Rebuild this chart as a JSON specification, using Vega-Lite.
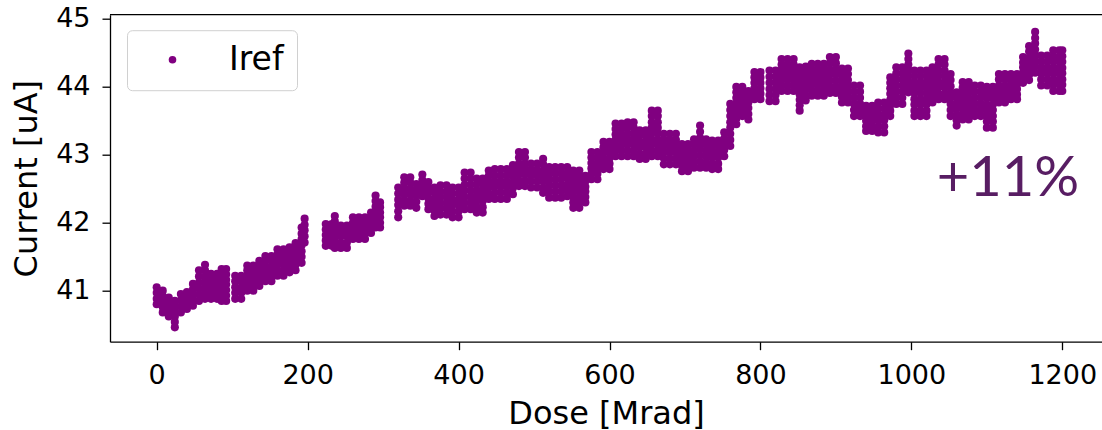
{
"$schema": "https://vega.github.io/schema/vega-lite/v6.json",
"width": 992,
"height": 327,
"autosize": "none",
"padding": {"left": 110, "top": 14.7, "right": 0, "bottom": 88.3},
"config": {
  "view": {"stroke": null},
  "axis": {"grid": false, "domainColor": "black", "domainWidth": 1.3, "tickColor": "black", "tickWidth": 1.3, "tickSize": 8, "labelFont": "DejaVu Sans", "labelFontSize": 27, "labelColor": "black", "titleFont": "DejaVu Sans", "titleFontSize": 32, "titleFontWeight": "normal", "titleColor": "black", "labelFlush": false, "labelOverlap": false}
},
"layer": [
{
"data": {"values": [
{"dose":0,"current":40.80},{"dose":0,"current":40.88},{"dose":0,"current":40.97},{"dose":0,"current":41.05},
{"dose":8,"current":40.68},{"dose":8,"current":40.76},{"dose":8,"current":40.84},{"dose":8,"current":40.92},{"dose":8,"current":41.00},
{"dose":16,"current":40.62},{"dose":16,"current":40.69},{"dose":16,"current":40.76},{"dose":16,"current":40.83},{"dose":16,"current":40.90},
{"dose":24,"current":40.46},{"dose":24,"current":40.54},{"dose":24,"current":40.62},{"dose":24,"current":40.69},{"dose":24,"current":40.77},{"dose":24,"current":40.85},
{"dose":32,"current":40.68},{"dose":32,"current":40.77},{"dose":32,"current":40.86},{"dose":32,"current":40.95},
{"dose":40,"current":40.73},{"dose":40,"current":40.81},{"dose":40,"current":40.90},{"dose":40,"current":40.98},
{"dose":48,"current":40.78},{"dose":48,"current":40.86},{"dose":48,"current":40.94},{"dose":48,"current":41.02},{"dose":48,"current":41.10},
{"dose":56,"current":40.85},{"dose":56,"current":40.94},{"dose":56,"current":41.03},{"dose":56,"current":41.12},{"dose":56,"current":41.21},{"dose":56,"current":41.30},
{"dose":64,"current":40.88},{"dose":64,"current":40.96},{"dose":64,"current":41.05},{"dose":64,"current":41.13},{"dose":64,"current":41.21},{"dose":64,"current":41.30},{"dose":64,"current":41.38},
{"dose":72,"current":40.88},{"dose":72,"current":40.95},{"dose":72,"current":41.03},{"dose":72,"current":41.10},{"dose":72,"current":41.18},{"dose":72,"current":41.25},
{"dose":80,"current":40.88},{"dose":80,"current":40.95},{"dose":80,"current":41.03},{"dose":80,"current":41.10},{"dose":80,"current":41.18},{"dose":80,"current":41.25},
{"dose":86,"current":40.85},{"dose":86,"current":40.93},{"dose":86,"current":41.01},{"dose":86,"current":41.09},{"dose":86,"current":41.16},{"dose":86,"current":41.24},{"dose":86,"current":41.32},
{"dose":92,"current":40.85},{"dose":92,"current":40.93},{"dose":92,"current":41.01},{"dose":92,"current":41.09},{"dose":92,"current":41.16},{"dose":92,"current":41.24},{"dose":92,"current":41.32},
{"dose":104,"current":40.88},{"dose":104,"current":40.97},{"dose":104,"current":41.05},{"dose":104,"current":41.14},{"dose":104,"current":41.22},
{"dose":112,"current":40.88},{"dose":112,"current":40.97},{"dose":112,"current":41.05},{"dose":112,"current":41.14},{"dose":112,"current":41.22},
{"dose":120,"current":41.00},{"dose":120,"current":41.07},{"dose":120,"current":41.15},{"dose":120,"current":41.22},{"dose":120,"current":41.30},{"dose":120,"current":41.37},
{"dose":128,"current":41.00},{"dose":128,"current":41.07},{"dose":128,"current":41.15},{"dose":128,"current":41.22},{"dose":128,"current":41.30},{"dose":128,"current":41.37},
{"dose":136,"current":41.07},{"dose":136,"current":41.14},{"dose":136,"current":41.22},{"dose":136,"current":41.29},{"dose":136,"current":41.37},{"dose":136,"current":41.44},
{"dose":144,"current":41.14},{"dose":144,"current":41.21},{"dose":144,"current":41.29},{"dose":144,"current":41.36},{"dose":144,"current":41.44},{"dose":144,"current":41.51},
{"dose":152,"current":41.14},{"dose":152,"current":41.21},{"dose":152,"current":41.29},{"dose":152,"current":41.36},{"dose":152,"current":41.44},{"dose":152,"current":41.51},
{"dose":160,"current":41.22},{"dose":160,"current":41.30},{"dose":160,"current":41.38},{"dose":160,"current":41.45},{"dose":160,"current":41.53},{"dose":160,"current":41.61},
{"dose":168,"current":41.22},{"dose":168,"current":41.30},{"dose":168,"current":41.38},{"dose":168,"current":41.45},{"dose":168,"current":41.53},{"dose":168,"current":41.61},
{"dose":176,"current":41.27},{"dose":176,"current":41.34},{"dose":176,"current":41.42},{"dose":176,"current":41.49},{"dose":176,"current":41.57},{"dose":176,"current":41.64},
{"dose":184,"current":41.30},{"dose":184,"current":41.38},{"dose":184,"current":41.46},{"dose":184,"current":41.54},{"dose":184,"current":41.62},{"dose":184,"current":41.70},
{"dose":192,"current":41.41},{"dose":192,"current":41.50},{"dose":192,"current":41.58},{"dose":192,"current":41.67},{"dose":192,"current":41.76},{"dose":192,"current":41.84},{"dose":192,"current":41.93},
{"dose":196,"current":41.71},{"dose":196,"current":41.80},{"dose":196,"current":41.89},{"dose":196,"current":41.97},{"dose":196,"current":42.06},
{"dose":224,"current":41.66},{"dose":224,"current":41.74},{"dose":224,"current":41.82},{"dose":224,"current":41.90},{"dose":224,"current":41.98},
{"dose":232,"current":41.66},{"dose":232,"current":41.74},{"dose":232,"current":41.82},{"dose":232,"current":41.90},{"dose":232,"current":41.98},
{"dose":236,"current":41.63},{"dose":236,"current":41.71},{"dose":236,"current":41.79},{"dose":236,"current":41.87},{"dose":236,"current":41.94},{"dose":236,"current":42.02},{"dose":236,"current":42.10},
{"dose":244,"current":41.63},{"dose":244,"current":41.71},{"dose":244,"current":41.80},{"dose":244,"current":41.88},{"dose":244,"current":41.96},
{"dose":252,"current":41.63},{"dose":252,"current":41.71},{"dose":252,"current":41.80},{"dose":252,"current":41.88},{"dose":252,"current":41.96},
{"dose":260,"current":41.76},{"dose":260,"current":41.84},{"dose":260,"current":41.92},{"dose":260,"current":42.00},{"dose":260,"current":42.08},
{"dose":268,"current":41.76},{"dose":268,"current":41.84},{"dose":268,"current":41.92},{"dose":268,"current":42.00},{"dose":268,"current":42.08},
{"dose":276,"current":41.76},{"dose":276,"current":41.84},{"dose":276,"current":41.92},{"dose":276,"current":42.00},{"dose":276,"current":42.08},
{"dose":284,"current":41.85},{"dose":284,"current":41.93},{"dose":284,"current":42.00},{"dose":284,"current":42.08},{"dose":284,"current":42.15},
{"dose":290,"current":41.93},{"dose":290,"current":42.01},{"dose":290,"current":42.09},{"dose":290,"current":42.17},{"dose":290,"current":42.24},{"dose":290,"current":42.32},{"dose":290,"current":42.40},
{"dose":296,"current":41.93},{"dose":296,"current":42.00},{"dose":296,"current":42.08},{"dose":296,"current":42.15},{"dose":296,"current":42.23},{"dose":296,"current":42.30},
{"dose":320,"current":42.08},{"dose":320,"current":42.17},{"dose":320,"current":42.26},{"dose":320,"current":42.34},{"dose":320,"current":42.43},{"dose":320,"current":42.52},
{"dose":328,"current":42.25},{"dose":328,"current":42.33},{"dose":328,"current":42.42},{"dose":328,"current":42.50},{"dose":328,"current":42.59},{"dose":328,"current":42.67},
{"dose":336,"current":42.25},{"dose":336,"current":42.33},{"dose":336,"current":42.42},{"dose":336,"current":42.50},{"dose":336,"current":42.59},{"dose":336,"current":42.67},
{"dose":344,"current":42.22},{"dose":344,"current":42.31},{"dose":344,"current":42.40},{"dose":344,"current":42.48},{"dose":344,"current":42.57},
{"dose":352,"current":42.39},{"dose":352,"current":42.47},{"dose":352,"current":42.55},{"dose":352,"current":42.63},{"dose":352,"current":42.71},
{"dose":360,"current":42.20},{"dose":360,"current":42.28},{"dose":360,"current":42.36},{"dose":360,"current":42.44},{"dose":360,"current":42.52},{"dose":360,"current":42.60},
{"dose":368,"current":42.10},{"dose":368,"current":42.18},{"dose":368,"current":42.27},{"dose":368,"current":42.35},{"dose":368,"current":42.44},{"dose":368,"current":42.52},
{"dose":376,"current":42.12},{"dose":376,"current":42.21},{"dose":376,"current":42.29},{"dose":376,"current":42.38},{"dose":376,"current":42.46},{"dose":376,"current":42.55},
{"dose":384,"current":42.12},{"dose":384,"current":42.21},{"dose":384,"current":42.29},{"dose":384,"current":42.38},{"dose":384,"current":42.46},{"dose":384,"current":42.55},
{"dose":392,"current":42.08},{"dose":392,"current":42.17},{"dose":392,"current":42.26},{"dose":392,"current":42.34},{"dose":392,"current":42.43},{"dose":392,"current":42.52},
{"dose":400,"current":42.08},{"dose":400,"current":42.17},{"dose":400,"current":42.26},{"dose":400,"current":42.34},{"dose":400,"current":42.43},{"dose":400,"current":42.52},
{"dose":408,"current":42.20},{"dose":408,"current":42.29},{"dose":408,"current":42.38},{"dose":408,"current":42.47},{"dose":408,"current":42.56},{"dose":408,"current":42.65},{"dose":408,"current":42.74},
{"dose":416,"current":42.20},{"dose":416,"current":42.29},{"dose":416,"current":42.38},{"dose":416,"current":42.47},{"dose":416,"current":42.56},{"dose":416,"current":42.65},{"dose":416,"current":42.74},
{"dose":424,"current":42.15},{"dose":424,"current":42.23},{"dose":424,"current":42.32},{"dose":424,"current":42.40},{"dose":424,"current":42.48},{"dose":424,"current":42.57},{"dose":424,"current":42.65},
{"dose":432,"current":42.15},{"dose":432,"current":42.23},{"dose":432,"current":42.32},{"dose":432,"current":42.40},{"dose":432,"current":42.48},{"dose":432,"current":42.57},{"dose":432,"current":42.65},
{"dose":440,"current":42.35},{"dose":440,"current":42.43},{"dose":440,"current":42.52},{"dose":440,"current":42.60},{"dose":440,"current":42.69},{"dose":440,"current":42.77},
{"dose":448,"current":42.35},{"dose":448,"current":42.44},{"dose":448,"current":42.53},{"dose":448,"current":42.61},{"dose":448,"current":42.70},{"dose":448,"current":42.79},
{"dose":456,"current":42.35},{"dose":456,"current":42.44},{"dose":456,"current":42.53},{"dose":456,"current":42.61},{"dose":456,"current":42.70},{"dose":456,"current":42.79},
{"dose":464,"current":42.35},{"dose":464,"current":42.44},{"dose":464,"current":42.53},{"dose":464,"current":42.61},{"dose":464,"current":42.70},{"dose":464,"current":42.79},
{"dose":472,"current":42.42},{"dose":472,"current":42.51},{"dose":472,"current":42.59},{"dose":472,"current":42.68},{"dose":472,"current":42.76},{"dose":472,"current":42.85},
{"dose":480,"current":42.54},{"dose":480,"current":42.62},{"dose":480,"current":42.71},{"dose":480,"current":42.79},{"dose":480,"current":42.87},{"dose":480,"current":42.96},{"dose":480,"current":43.04},
{"dose":488,"current":42.54},{"dose":488,"current":42.62},{"dose":488,"current":42.71},{"dose":488,"current":42.79},{"dose":488,"current":42.87},{"dose":488,"current":42.96},{"dose":488,"current":43.04},
{"dose":496,"current":42.52},{"dose":496,"current":42.61},{"dose":496,"current":42.70},{"dose":496,"current":42.78},{"dose":496,"current":42.87},
{"dose":504,"current":42.52},{"dose":504,"current":42.61},{"dose":504,"current":42.70},{"dose":504,"current":42.78},{"dose":504,"current":42.87},
{"dose":512,"current":42.44},{"dose":512,"current":42.52},{"dose":512,"current":42.61},{"dose":512,"current":42.69},{"dose":512,"current":42.77},{"dose":512,"current":42.86},{"dose":512,"current":42.94},
{"dose":520,"current":42.37},{"dose":520,"current":42.46},{"dose":520,"current":42.55},{"dose":520,"current":42.64},{"dose":520,"current":42.73},{"dose":520,"current":42.82},
{"dose":528,"current":42.37},{"dose":528,"current":42.46},{"dose":528,"current":42.55},{"dose":528,"current":42.64},{"dose":528,"current":42.73},{"dose":528,"current":42.82},
{"dose":536,"current":42.37},{"dose":536,"current":42.46},{"dose":536,"current":42.55},{"dose":536,"current":42.64},{"dose":536,"current":42.73},{"dose":536,"current":42.82},
{"dose":544,"current":42.39},{"dose":544,"current":42.48},{"dose":544,"current":42.56},{"dose":544,"current":42.65},{"dose":544,"current":42.73},{"dose":544,"current":42.82},
{"dose":552,"current":42.22},{"dose":552,"current":42.30},{"dose":552,"current":42.38},{"dose":552,"current":42.46},{"dose":552,"current":42.53},{"dose":552,"current":42.61},{"dose":552,"current":42.69},{"dose":552,"current":42.77},
{"dose":560,"current":42.22},{"dose":560,"current":42.30},{"dose":560,"current":42.38},{"dose":560,"current":42.46},{"dose":560,"current":42.53},{"dose":560,"current":42.61},{"dose":560,"current":42.69},{"dose":560,"current":42.77},
{"dose":568,"current":42.30},{"dose":568,"current":42.38},{"dose":568,"current":42.46},{"dose":568,"current":42.53},{"dose":568,"current":42.61},{"dose":568,"current":42.69},
{"dose":576,"current":42.64},{"dose":576,"current":42.72},{"dose":576,"current":42.80},{"dose":576,"current":42.88},{"dose":576,"current":42.96},{"dose":576,"current":43.04},
{"dose":584,"current":42.64},{"dose":584,"current":42.72},{"dose":584,"current":42.80},{"dose":584,"current":42.88},{"dose":584,"current":42.96},{"dose":584,"current":43.04},
{"dose":592,"current":42.79},{"dose":592,"current":42.87},{"dose":592,"current":42.95},{"dose":592,"current":43.03},{"dose":592,"current":43.11},{"dose":592,"current":43.19},
{"dose":600,"current":42.79},{"dose":600,"current":42.87},{"dose":600,"current":42.95},{"dose":600,"current":43.03},{"dose":600,"current":43.11},{"dose":600,"current":43.19},
{"dose":608,"current":42.98},{"dose":608,"current":43.06},{"dose":608,"current":43.14},{"dose":608,"current":43.22},{"dose":608,"current":43.30},{"dose":608,"current":43.38},{"dose":608,"current":43.46},
{"dose":616,"current":42.98},{"dose":616,"current":43.06},{"dose":616,"current":43.14},{"dose":616,"current":43.22},{"dose":616,"current":43.30},{"dose":616,"current":43.38},{"dose":616,"current":43.46},
{"dose":624,"current":42.98},{"dose":624,"current":43.06},{"dose":624,"current":43.15},{"dose":624,"current":43.23},{"dose":624,"current":43.31},{"dose":624,"current":43.40},{"dose":624,"current":43.48},
{"dose":632,"current":42.98},{"dose":632,"current":43.06},{"dose":632,"current":43.15},{"dose":632,"current":43.23},{"dose":632,"current":43.31},{"dose":632,"current":43.40},{"dose":632,"current":43.48},
{"dose":640,"current":42.94},{"dose":640,"current":43.02},{"dose":640,"current":43.11},{"dose":640,"current":43.19},{"dose":640,"current":43.28},{"dose":640,"current":43.36},
{"dose":648,"current":42.94},{"dose":648,"current":43.02},{"dose":648,"current":43.11},{"dose":648,"current":43.19},{"dose":648,"current":43.28},{"dose":648,"current":43.36},
{"dose":656,"current":42.98},{"dose":656,"current":43.06},{"dose":656,"current":43.15},{"dose":656,"current":43.23},{"dose":656,"current":43.32},{"dose":656,"current":43.40},{"dose":656,"current":43.48},{"dose":656,"current":43.57},{"dose":656,"current":43.65},
{"dose":664,"current":42.98},{"dose":664,"current":43.06},{"dose":664,"current":43.15},{"dose":664,"current":43.23},{"dose":664,"current":43.32},{"dose":664,"current":43.40},{"dose":664,"current":43.48},{"dose":664,"current":43.57},{"dose":664,"current":43.65},
{"dose":672,"current":42.86},{"dose":672,"current":42.95},{"dose":672,"current":43.04},{"dose":672,"current":43.13},{"dose":672,"current":43.22},{"dose":672,"current":43.31},
{"dose":680,"current":42.86},{"dose":680,"current":42.95},{"dose":680,"current":43.04},{"dose":680,"current":43.13},{"dose":680,"current":43.22},{"dose":680,"current":43.31},
{"dose":688,"current":42.86},{"dose":688,"current":42.95},{"dose":688,"current":43.04},{"dose":688,"current":43.13},{"dose":688,"current":43.22},{"dose":688,"current":43.31},
{"dose":696,"current":42.76},{"dose":696,"current":42.84},{"dose":696,"current":42.92},{"dose":696,"current":43.00},{"dose":696,"current":43.08},{"dose":696,"current":43.16},
{"dose":704,"current":42.76},{"dose":704,"current":42.84},{"dose":704,"current":42.92},{"dose":704,"current":43.00},{"dose":704,"current":43.08},{"dose":704,"current":43.16},
{"dose":712,"current":42.81},{"dose":712,"current":42.89},{"dose":712,"current":42.98},{"dose":712,"current":43.06},{"dose":712,"current":43.15},{"dose":712,"current":43.23},
{"dose":720,"current":42.81},{"dose":720,"current":42.90},{"dose":720,"current":42.99},{"dose":720,"current":43.08},{"dose":720,"current":43.16},{"dose":720,"current":43.25},{"dose":720,"current":43.34},{"dose":720,"current":43.43},
{"dose":728,"current":42.81},{"dose":728,"current":42.89},{"dose":728,"current":42.98},{"dose":728,"current":43.06},{"dose":728,"current":43.15},{"dose":728,"current":43.23},
{"dose":736,"current":42.79},{"dose":736,"current":42.87},{"dose":736,"current":42.96},{"dose":736,"current":43.04},{"dose":736,"current":43.13},{"dose":736,"current":43.21},
{"dose":744,"current":42.79},{"dose":744,"current":42.87},{"dose":744,"current":42.96},{"dose":744,"current":43.04},{"dose":744,"current":43.13},{"dose":744,"current":43.21},
{"dose":752,"current":42.98},{"dose":752,"current":43.07},{"dose":752,"current":43.16},{"dose":752,"current":43.24},{"dose":752,"current":43.33},
{"dose":760,"current":43.13},{"dose":760,"current":43.22},{"dose":760,"current":43.31},{"dose":760,"current":43.40},{"dose":760,"current":43.48},{"dose":760,"current":43.57},{"dose":760,"current":43.66},{"dose":760,"current":43.75},
{"dose":768,"current":43.45},{"dose":768,"current":43.53},{"dose":768,"current":43.61},{"dose":768,"current":43.69},{"dose":768,"current":43.76},{"dose":768,"current":43.84},{"dose":768,"current":43.92},{"dose":768,"current":44.00},
{"dose":776,"current":43.57},{"dose":776,"current":43.66},{"dose":776,"current":43.74},{"dose":776,"current":43.83},{"dose":776,"current":43.91},{"dose":776,"current":44.00},
{"dose":784,"current":43.52},{"dose":784,"current":43.60},{"dose":784,"current":43.69},{"dose":784,"current":43.77},{"dose":784,"current":43.86},{"dose":784,"current":43.94},
{"dose":792,"current":43.82},{"dose":792,"current":43.90},{"dose":792,"current":43.98},{"dose":792,"current":44.06},{"dose":792,"current":44.14},{"dose":792,"current":44.22},
{"dose":800,"current":43.82},{"dose":800,"current":43.90},{"dose":800,"current":43.98},{"dose":800,"current":44.06},{"dose":800,"current":44.14},{"dose":800,"current":44.22},
{"dose":812,"current":43.79},{"dose":812,"current":43.88},{"dose":812,"current":43.97},{"dose":812,"current":44.06},{"dose":812,"current":44.15},{"dose":812,"current":44.24},
{"dose":820,"current":43.79},{"dose":820,"current":43.88},{"dose":820,"current":43.97},{"dose":820,"current":44.06},{"dose":820,"current":44.15},{"dose":820,"current":44.24},
{"dose":828,"current":43.94},{"dose":828,"current":44.02},{"dose":828,"current":44.10},{"dose":828,"current":44.18},{"dose":828,"current":44.25},{"dose":828,"current":44.33},{"dose":828,"current":44.41},
{"dose":836,"current":43.94},{"dose":836,"current":44.02},{"dose":836,"current":44.10},{"dose":836,"current":44.18},{"dose":836,"current":44.25},{"dose":836,"current":44.33},{"dose":836,"current":44.41},
{"dose":844,"current":43.94},{"dose":844,"current":44.02},{"dose":844,"current":44.10},{"dose":844,"current":44.18},{"dose":844,"current":44.25},{"dose":844,"current":44.33},{"dose":844,"current":44.41},
{"dose":852,"current":43.65},{"dose":852,"current":43.73},{"dose":852,"current":43.81},{"dose":852,"current":43.89},{"dose":852,"current":43.97},{"dose":852,"current":44.05},{"dose":852,"current":44.13},{"dose":852,"current":44.21},{"dose":852,"current":44.29},
{"dose":860,"current":43.80},{"dose":860,"current":43.88},{"dose":860,"current":43.97},{"dose":860,"current":44.05},{"dose":860,"current":44.13},{"dose":860,"current":44.22},{"dose":860,"current":44.30},
{"dose":868,"current":43.87},{"dose":868,"current":43.95},{"dose":868,"current":44.03},{"dose":868,"current":44.11},{"dose":868,"current":44.18},{"dose":868,"current":44.26},{"dose":868,"current":44.34},
{"dose":876,"current":43.87},{"dose":876,"current":43.95},{"dose":876,"current":44.03},{"dose":876,"current":44.11},{"dose":876,"current":44.18},{"dose":876,"current":44.26},{"dose":876,"current":44.34},
{"dose":884,"current":43.87},{"dose":884,"current":43.95},{"dose":884,"current":44.03},{"dose":884,"current":44.11},{"dose":884,"current":44.18},{"dose":884,"current":44.26},{"dose":884,"current":44.34},
{"dose":892,"current":43.91},{"dose":892,"current":44.00},{"dose":892,"current":44.09},{"dose":892,"current":44.18},{"dose":892,"current":44.26},{"dose":892,"current":44.35},{"dose":892,"current":44.44},
{"dose":900,"current":43.91},{"dose":900,"current":44.00},{"dose":900,"current":44.09},{"dose":900,"current":44.18},{"dose":900,"current":44.26},{"dose":900,"current":44.35},{"dose":900,"current":44.44},
{"dose":908,"current":43.77},{"dose":908,"current":43.85},{"dose":908,"current":43.94},{"dose":908,"current":44.02},{"dose":908,"current":44.10},{"dose":908,"current":44.19},{"dose":908,"current":44.27},
{"dose":916,"current":43.77},{"dose":916,"current":43.85},{"dose":916,"current":43.94},{"dose":916,"current":44.02},{"dose":916,"current":44.10},{"dose":916,"current":44.19},{"dose":916,"current":44.27},
{"dose":924,"current":43.57},{"dose":924,"current":43.66},{"dose":924,"current":43.75},{"dose":924,"current":43.84},{"dose":924,"current":43.93},{"dose":924,"current":44.02},
{"dose":932,"current":43.57},{"dose":932,"current":43.66},{"dose":932,"current":43.75},{"dose":932,"current":43.84},{"dose":932,"current":43.93},{"dose":932,"current":44.02},
{"dose":940,"current":43.35},{"dose":940,"current":43.42},{"dose":940,"current":43.50},{"dose":940,"current":43.57},{"dose":940,"current":43.65},{"dose":940,"current":43.72},
{"dose":948,"current":43.35},{"dose":948,"current":43.42},{"dose":948,"current":43.50},{"dose":948,"current":43.57},{"dose":948,"current":43.65},{"dose":948,"current":43.72},
{"dose":956,"current":43.33},{"dose":956,"current":43.42},{"dose":956,"current":43.51},{"dose":956,"current":43.59},{"dose":956,"current":43.68},{"dose":956,"current":43.77},
{"dose":964,"current":43.33},{"dose":964,"current":43.42},{"dose":964,"current":43.51},{"dose":964,"current":43.59},{"dose":964,"current":43.68},{"dose":964,"current":43.77},
{"dose":972,"current":43.57},{"dose":972,"current":43.65},{"dose":972,"current":43.73},{"dose":972,"current":43.81},{"dose":972,"current":43.90},{"dose":972,"current":43.98},{"dose":972,"current":44.06},{"dose":972,"current":44.14},
{"dose":980,"current":43.75},{"dose":980,"current":43.84},{"dose":980,"current":43.93},{"dose":980,"current":44.02},{"dose":980,"current":44.11},{"dose":980,"current":44.20},{"dose":980,"current":44.29},
{"dose":988,"current":43.75},{"dose":988,"current":43.84},{"dose":988,"current":43.93},{"dose":988,"current":44.02},{"dose":988,"current":44.11},{"dose":988,"current":44.20},{"dose":988,"current":44.29},
{"dose":996,"current":43.92},{"dose":996,"current":44.00},{"dose":996,"current":44.08},{"dose":996,"current":44.16},{"dose":996,"current":44.25},{"dose":996,"current":44.33},{"dose":996,"current":44.41},{"dose":996,"current":44.49},
{"dose":1004,"current":43.57},{"dose":1004,"current":43.65},{"dose":1004,"current":43.74},{"dose":1004,"current":43.82},{"dose":1004,"current":43.91},{"dose":1004,"current":43.99},{"dose":1004,"current":44.07},{"dose":1004,"current":44.16},{"dose":1004,"current":44.24},
{"dose":1012,"current":43.57},{"dose":1012,"current":43.65},{"dose":1012,"current":43.74},{"dose":1012,"current":43.82},{"dose":1012,"current":43.91},{"dose":1012,"current":43.99},{"dose":1012,"current":44.07},{"dose":1012,"current":44.16},{"dose":1012,"current":44.24},
{"dose":1020,"current":43.57},{"dose":1020,"current":43.65},{"dose":1020,"current":43.74},{"dose":1020,"current":43.82},{"dose":1020,"current":43.91},{"dose":1020,"current":43.99},{"dose":1020,"current":44.07},{"dose":1020,"current":44.16},{"dose":1020,"current":44.24},
{"dose":1028,"current":43.77},{"dose":1028,"current":43.86},{"dose":1028,"current":43.94},{"dose":1028,"current":44.03},{"dose":1028,"current":44.12},{"dose":1028,"current":44.20},{"dose":1028,"current":44.29},
{"dose":1036,"current":43.82},{"dose":1036,"current":43.90},{"dose":1036,"current":43.99},{"dose":1036,"current":44.07},{"dose":1036,"current":44.16},{"dose":1036,"current":44.24},{"dose":1036,"current":44.33},{"dose":1036,"current":44.41},
{"dose":1044,"current":43.82},{"dose":1044,"current":43.90},{"dose":1044,"current":43.99},{"dose":1044,"current":44.07},{"dose":1044,"current":44.16},{"dose":1044,"current":44.24},{"dose":1044,"current":44.33},{"dose":1044,"current":44.41},
{"dose":1052,"current":43.57},{"dose":1052,"current":43.66},{"dose":1052,"current":43.75},{"dose":1052,"current":43.84},{"dose":1052,"current":43.92},{"dose":1052,"current":44.01},{"dose":1052,"current":44.10},{"dose":1052,"current":44.19},
{"dose":1060,"current":43.43},{"dose":1060,"current":43.51},{"dose":1060,"current":43.59},{"dose":1060,"current":43.68},{"dose":1060,"current":43.76},{"dose":1060,"current":43.84},{"dose":1060,"current":43.92},
{"dose":1068,"current":43.52},{"dose":1068,"current":43.60},{"dose":1068,"current":43.68},{"dose":1068,"current":43.76},{"dose":1068,"current":43.83},{"dose":1068,"current":43.91},{"dose":1068,"current":43.99},{"dose":1068,"current":44.07},
{"dose":1076,"current":43.52},{"dose":1076,"current":43.60},{"dose":1076,"current":43.68},{"dose":1076,"current":43.76},{"dose":1076,"current":43.83},{"dose":1076,"current":43.91},{"dose":1076,"current":43.99},{"dose":1076,"current":44.07},
{"dose":1084,"current":43.57},{"dose":1084,"current":43.66},{"dose":1084,"current":43.75},{"dose":1084,"current":43.84},{"dose":1084,"current":43.93},{"dose":1084,"current":44.02},
{"dose":1092,"current":43.57},{"dose":1092,"current":43.66},{"dose":1092,"current":43.75},{"dose":1092,"current":43.84},{"dose":1092,"current":43.93},{"dose":1092,"current":44.02},
{"dose":1100,"current":43.40},{"dose":1100,"current":43.49},{"dose":1100,"current":43.57},{"dose":1100,"current":43.66},{"dose":1100,"current":43.74},{"dose":1100,"current":43.83},{"dose":1100,"current":43.91},{"dose":1100,"current":44.00},
{"dose":1108,"current":43.40},{"dose":1108,"current":43.49},{"dose":1108,"current":43.57},{"dose":1108,"current":43.66},{"dose":1108,"current":43.74},{"dose":1108,"current":43.83},{"dose":1108,"current":43.91},{"dose":1108,"current":44.00},
{"dose":1116,"current":43.77},{"dose":1116,"current":43.85},{"dose":1116,"current":43.94},{"dose":1116,"current":44.02},{"dose":1116,"current":44.11},{"dose":1116,"current":44.19},
{"dose":1124,"current":43.77},{"dose":1124,"current":43.85},{"dose":1124,"current":43.94},{"dose":1124,"current":44.02},{"dose":1124,"current":44.11},{"dose":1124,"current":44.19},
{"dose":1132,"current":43.82},{"dose":1132,"current":43.89},{"dose":1132,"current":43.97},{"dose":1132,"current":44.04},{"dose":1132,"current":44.12},{"dose":1132,"current":44.19},
{"dose":1140,"current":43.82},{"dose":1140,"current":43.89},{"dose":1140,"current":43.97},{"dose":1140,"current":44.04},{"dose":1140,"current":44.12},{"dose":1140,"current":44.19},
{"dose":1148,"current":44.06},{"dose":1148,"current":44.14},{"dose":1148,"current":44.21},{"dose":1148,"current":44.29},{"dose":1148,"current":44.36},{"dose":1148,"current":44.44},
{"dose":1156,"current":44.10},{"dose":1156,"current":44.18},{"dose":1156,"current":44.27},{"dose":1156,"current":44.35},{"dose":1156,"current":44.43},{"dose":1156,"current":44.52},{"dose":1156,"current":44.60},
{"dose":1164,"current":44.21},{"dose":1164,"current":44.30},{"dose":1164,"current":44.38},{"dose":1164,"current":44.47},{"dose":1164,"current":44.55},{"dose":1164,"current":44.64},{"dose":1164,"current":44.72},{"dose":1164,"current":44.81},
{"dose":1172,"current":44.02},{"dose":1172,"current":44.11},{"dose":1172,"current":44.20},{"dose":1172,"current":44.28},{"dose":1172,"current":44.37},{"dose":1172,"current":44.46},
{"dose":1180,"current":44.02},{"dose":1180,"current":44.11},{"dose":1180,"current":44.20},{"dose":1180,"current":44.28},{"dose":1180,"current":44.37},{"dose":1180,"current":44.46},
{"dose":1188,"current":43.94},{"dose":1188,"current":44.03},{"dose":1188,"current":44.11},{"dose":1188,"current":44.20},{"dose":1188,"current":44.28},{"dose":1188,"current":44.37},{"dose":1188,"current":44.45},{"dose":1188,"current":44.54},
{"dose":1196,"current":43.94},{"dose":1196,"current":44.03},{"dose":1196,"current":44.11},{"dose":1196,"current":44.20},{"dose":1196,"current":44.28},{"dose":1196,"current":44.37},{"dose":1196,"current":44.45},{"dose":1196,"current":44.54},
{"dose":1200,"current":43.94},{"dose":1200,"current":44.03},{"dose":1200,"current":44.11},{"dose":1200,"current":44.20},{"dose":1200,"current":44.28},{"dose":1200,"current":44.37},{"dose":1200,"current":44.45},{"dose":1200,"current":44.54}
]},
"mark": {"type": "point", "filled": true, "size": 66, "opacity": 1, "shape": "circle", "strokeWidth": 0},
"encoding": {
  "x": {"field": "dose", "type": "quantitative", "title": "Dose [Mrad]", "scale": {"domain": [-61.9, 1252.6], "nice": false, "zero": false}, "axis": {"values": [0, 200, 400, 600, 800, 1000, 1200], "format": "d", "labelPadding": 13, "titleBaseline": "alphabetic", "titleY": 81.8}},
  "y": {"field": "current", "type": "quantitative", "title": "Current [uA]", "scale": {"domain": [40.249, 45.063], "nice": false, "zero": false}, "axis": {"values": [41, 42, 43, 44, 45], "format": "d", "labelPadding": 12, "titleX": -73.3, "titleBaseline": "alphabetic"}},
  "color": {"datum": "Iref", "type": "nominal", "scale": {"range": ["#800080"]}, "legend": {"title": null, "orient": "none", "legendX": 17, "legendY": 15.5, "padding": 13, "strokeColor": "#d0d0d0", "cornerRadius": 5, "fillColor": "rgba(255,255,255,0.8)", "labelFont": "DejaVu Sans", "labelFontSize": 33, "labelColor": "black", "symbolSize": 58, "symbolType": "circle", "symbolOffset": 16, "labelOffset": 40, "symbolStrokeWidth": 0}}
}
},
{
"data": {"values": [{"top": 45.063}]},
"mark": {"type": "rule", "color": "black", "strokeWidth": 1.3},
"encoding": {"y": {"field": "top", "type": "quantitative", "title": "Current [uA]"}}
},
{
"data": {"values": [{"label": "+11%", "dose": 1128, "current": 42.394}]},
"mark": {"type": "text", "font": "Lato", "fontSize": 56, "color": "#581d63", "align": "center", "baseline": "alphabetic"},
"encoding": {
  "x": {"field": "dose", "type": "quantitative", "title": "Dose [Mrad]"},
  "y": {"field": "current", "type": "quantitative", "title": "Current [uA]"},
  "text": {"field": "label"}
}
}
]
}
